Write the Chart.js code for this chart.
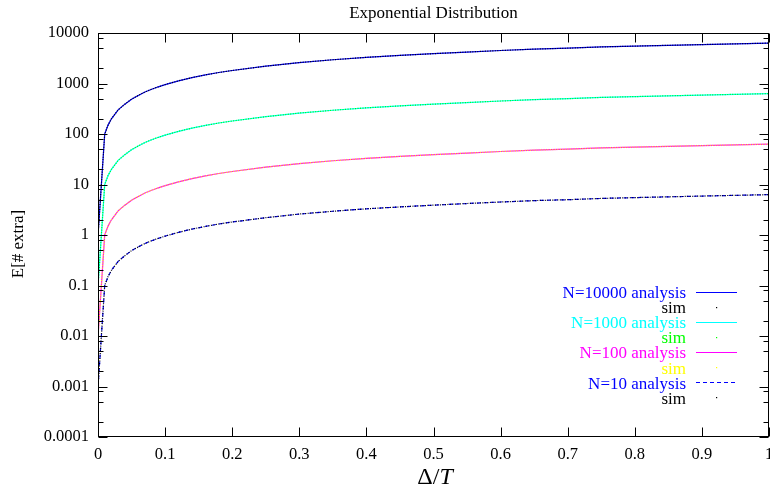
<!DOCTYPE html>
<html>
<head>
<meta charset="utf-8">
<script src="https://cdn.jsdelivr.net/npm/chart.js@4/dist/chart.umd.min.js"></script>
<style>
  html, body { margin: 0; padding: 0; background: #fff; }
  #wrap { width: 770px; height: 486px; position: relative; }
</style>
</head>
<body>
<div id="wrap"><canvas id="c"></canvas></div>
<script>
// Δ/T sample positions
const xs = [0.0001, 0.01, 0.015, 0.02, 0.03, 0.04, 0.05, 0.06, 0.07, 0.08, 0.09, 0.1,
            0.12, 0.14, 0.16, 0.18, 0.2, 0.25, 0.3, 0.35, 0.4, 0.45, 0.5, 0.55, 0.6,
            0.65, 0.7, 0.75, 0.8, 0.85, 0.9, 0.95, 1.0];

// Expected number of extra events, per population size
const n10000Analysis = [1, 100, 150, 200, 300, 390, 490, 580, 680, 770, 860, 950,
  1130, 1310, 1480, 1650, 1810, 2200, 2600, 2950, 3300, 3600, 3900, 4200, 4500,
  4800, 5000, 5300, 5500, 5700, 5900, 6100, 6300];
const n10000Sim = [1, 100, 150, 200, 300, 390, 490, 580, 680, 770, 860, 950,
  1130, 1310, 1480, 1650, 1810, 2200, 2600, 2950, 3300, 3600, 3900, 4200, 4500,
  4800, 5000, 5300, 5500, 5700, 5900, 6100, 6300];
const n1000Analysis = [0.1, 10, 15, 20, 30, 39, 49, 58, 68, 77, 86, 95,
  113, 131, 148, 165, 181, 220, 260, 295, 330, 360, 390, 420, 450,
  480, 500, 530, 550, 570, 590, 610, 630];
const n1000Sim = [0.1, 10, 15, 20, 30, 39, 49, 58, 68, 77, 86, 95,
  113, 131, 148, 165, 181, 220, 260, 295, 330, 360, 390, 420, 450,
  480, 500, 530, 550, 570, 590, 610, 630];
const n100Analysis = [0.01, 1.0, 1.5, 2.0, 3.0, 3.9, 4.9, 5.8, 6.8, 7.7, 8.6, 9.5,
  11.3, 13.1, 14.8, 16.5, 18.1, 22, 26, 29.5, 33, 36, 39, 42, 45,
  48, 50, 53, 55, 57, 59, 61, 63];
const n100Sim = [0.01, 1.0, 1.5, 2.0, 3.0, 3.9, 4.9, 5.8, 6.8, 7.7, 8.6, 9.5,
  11.3, 13.1, 14.8, 16.5, 18.1, 22, 26, 29.5, 33, 36, 39, 42, 45,
  48, 50, 53, 55, 57, 59, 61, 63];
const n10Analysis = [0.001, 0.1, 0.15, 0.2, 0.3, 0.39, 0.49, 0.58, 0.68, 0.77, 0.86, 0.95,
  1.13, 1.31, 1.48, 1.65, 1.81, 2.2, 2.6, 2.95, 3.3, 3.6, 3.9, 4.2, 4.5,
  4.8, 5.0, 5.3, 5.5, 5.7, 5.9, 6.1, 6.3];
const n10Sim = [0.001, 0.1, 0.15, 0.2, 0.3, 0.39, 0.49, 0.58, 0.68, 0.77, 0.86, 0.95,
  1.13, 1.31, 1.48, 1.65, 1.81, 2.2, 2.6, 2.95, 3.3, 3.6, 3.9, 4.2, 4.5,
  4.8, 5.0, 5.3, 5.5, 5.7, 5.9, 6.1, 6.3];

// Axis ticks
const xTickValues = [0, 0.1, 0.2, 0.3, 0.4, 0.5, 0.6, 0.7, 0.8, 0.9, 1];
const xTickLabels = ['0', '0.1', '0.2', '0.3', '0.4', '0.5', '0.6', '0.7', '0.8', '0.9', '1'];
const yTickValues = [0.0001, 0.001, 0.01, 0.1, 1, 10, 100, 1000, 10000];
const yTickLabels = ['0.0001', '0.001', '0.01', '0.1', '1', '10', '100', '1000', '10000'];
const yMinorFactors = [2, 5, 8];

const SERIF = '"Liberation Serif", "DejaVu Serif", serif';

const pts = vals => xs.map((x, i) => ({ x, y: vals[i] }));

function series(label, vals, color, textColor, kind) {
  const base = {
    label, data: pts(vals), borderColor: color, textColor, kind,
    pointRadius: 0, pointHoverRadius: 0, tension: 0, fill: false, showLine: true
  };
  if (kind === 'line') return Object.assign(base, { borderWidth: 1.2, order: 1 });
  if (kind === 'dash') return Object.assign(base, { borderWidth: 1.2, borderDash: [4, 3], order: 1 });
  return Object.assign(base, { borderWidth: 1.2, borderDash: [1, 1.5], order: 0 });
}

const datasets = [
  series('N=10000 analysis', n10000Analysis, '#0000ff', '#0000ff', 'line'),
  series('sim', n10000Sim, '#000000', '#000000', 'dot'),
  series('N=1000 analysis', n1000Analysis, '#00ffff', '#00ffff', 'line'),
  series('sim', n1000Sim, '#00ff00', '#00ff00', 'dot'),
  series('N=100 analysis', n100Analysis, '#ff00ff', '#ff00ff', 'line'),
  series('sim', n100Sim, '#ffff00', '#ffff00', 'dot'),
  series('N=10 analysis', n10Analysis, '#0000ff', '#0000ff', 'dash'),
  series('sim', n10Sim, '#000000', '#000000', 'dot')
];

// Frame, inward tick marks, key and captions in the gnuplot style
const decorations = {
  id: 'decorations',
  afterDraw(chart) {
    const { ctx, chartArea: a, scales: { x, y } } = chart;
    const L = Math.round(a.left) + 0.5, R = Math.round(a.right) - 0.5;
    const T = Math.round(a.top) + 0.5, B = Math.round(a.bottom) - 0.5;
    ctx.save();
    ctx.strokeStyle = '#000';
    ctx.lineWidth = 1;
    ctx.setLineDash([]);
    ctx.strokeRect(L, T, R - L, B - T);

    ctx.beginPath();
    yTickValues.forEach(v => {
      const p = Math.round(y.getPixelForValue(v)) + 0.5;
      ctx.moveTo(L, p); ctx.lineTo(L + 9, p);
      ctx.moveTo(R, p); ctx.lineTo(R - 9, p);
    });
    yTickValues.slice(0, -1).forEach(d => {
      yMinorFactors.forEach(m => {
        const p = Math.round(y.getPixelForValue(d * m)) + 0.5;
        ctx.moveTo(L, p); ctx.lineTo(L + 5, p);
        ctx.moveTo(R, p); ctx.lineTo(R - 5, p);
      });
    });
    xTickValues.forEach(v => {
      const p = Math.round(x.getPixelForValue(v)) + 0.5;
      ctx.moveTo(p, B); ctx.lineTo(p, B - 9);
      ctx.moveTo(p, T); ctx.lineTo(p, T + 9);
    });
    ctx.stroke();

    // key
    ctx.font = '17px ' + SERIF;
    ctx.textAlign = 'right';
    ctx.textBaseline = 'alphabetic';
    const textRight = 686, sampleL = 696, sampleR = 737;
    chart.data.datasets.forEach((ds, i) => {
      const base = 298 + i * 15.1;
      ctx.fillStyle = ds.textColor;
      ctx.fillText(ds.label, textRight, base);
      const ly = Math.round(base - 6.5) + 0.5;
      ctx.strokeStyle = ds.borderColor;
      ctx.lineWidth = 1.2;
      if (ds.kind === 'dot') {
        ctx.fillStyle = ds.borderColor;
        ctx.fillRect(716, ly - 0.5, 1.2, 1.2);
      } else {
        ctx.setLineDash(ds.kind === 'dash' ? [4, 3] : []);
        ctx.beginPath();
        ctx.moveTo(sampleL, ly); ctx.lineTo(sampleR, ly);
        ctx.stroke();
        ctx.setLineDash([]);
      }
    });

    // title
    ctx.fillStyle = '#000';
    ctx.textAlign = 'center';
    ctx.textBaseline = 'middle';
    ctx.font = '17px ' + SERIF;
    ctx.fillText('Exponential Distribution', (L + R) / 2, 14);

    // y caption
    ctx.save();
    ctx.translate(19, 244);
    ctx.rotate(-Math.PI / 2);
    ctx.font = '17px ' + SERIF;
    ctx.fillText('E[# extra]', 0, 0);
    ctx.restore();

    // x caption: Δ/T with italic T
    ctx.textAlign = 'left';
    ctx.textBaseline = 'alphabetic';
    const f1 = '24px ' + SERIF, f2 = 'italic 24px ' + SERIF;
    ctx.font = f1;
    const w1 = ctx.measureText('Δ/').width;
    ctx.font = f2;
    const w2 = ctx.measureText('T').width;
    const x0 = 435 - (w1 + w2) / 2;
    ctx.font = f1;
    ctx.fillText('Δ/', x0, 484);
    ctx.font = f2;
    ctx.fillText('T', x0 + w1, 484);
    ctx.restore();
  }
};

new Chart(document.getElementById('c'), {
  type: 'scatter',
  data: { datasets },
  options: {
    responsive: true,
    maintainAspectRatio: false,
    animation: false,
    events: [],
    layout: { padding: { left: 0, right: 1, top: 33, bottom: 0 } },
    plugins: { legend: { display: false }, title: { display: false }, tooltip: { enabled: false } },
    scales: {
      x: {
        type: 'linear', min: 0, max: 1,
        grid: { display: false, drawTicks: false },
        border: { display: false },
        afterBuildTicks: s => { s.ticks = xTickValues.map(v => ({ value: v })); },
        afterFit: s => { s.height = 49; s.paddingLeft = 0; s.paddingRight = 0; },
        ticks: {
          autoSkip: false, maxRotation: 0, padding: 8, color: '#000',
          font: { family: SERIF, size: 16.5 },
          callback: (v, i) => xTickLabels[i]
        }
      },
      y: {
        type: 'logarithmic', min: 0.0001, max: 10000,
        grid: { display: false, drawTicks: false },
        border: { display: false },
        afterBuildTicks: s => { s.ticks = yTickValues.map(v => ({ value: v })); },
        afterFit: s => { s.width = 98; s.paddingTop = 0; s.paddingBottom = 0; },
        ticks: {
          autoSkip: false, padding: 9, color: '#000',
          font: { family: SERIF, size: 16.5 },
          callback: (v, i) => yTickLabels[i]
        }
      }
    }
  },
  plugins: [decorations]
});
</script>
</body>
</html>
